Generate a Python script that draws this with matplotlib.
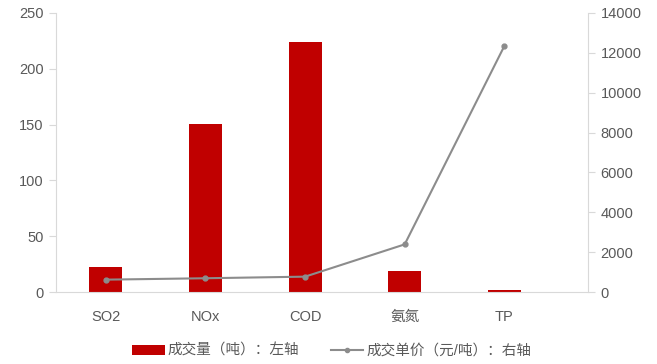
import matplotlib
matplotlib.use("Agg")
import matplotlib.pyplot as plt
from matplotlib.lines import Line2D
from matplotlib.patches import Patch

plt.rcParams['font.family'] = ['Liberation Sans', 'Noto Sans CJK SC', 'DejaVu Sans']

categories = ["SO2", "NOx", "COD", "氨氮", "TP"]
volume_t = [22.1, 150.5, 224.0, 18.8, 2.0]
unit_price = [620, 690, 770, 2390, 12340]
left_ticks = [0, 50, 100, 150, 200, 250]
right_ticks = [0, 2000, 4000, 6000, 8000, 10000, 12000, 14000]

bar_color = "#C00000"
line_color = "#8C8C8C"
text_color = "#595959"
axis_color = "#D9D9D9"

fig = plt.figure(figsize=(6.57, 3.64), dpi=100)
ax = fig.add_axes([56 / 657, (364 - 292) / 364, (588 - 56) / 657, (292 - 13) / 364])
x = list(range(len(categories)))
ax.bar(x, volume_t, width=0.33, color=bar_color, zorder=2)
ax.set_xlim(-0.5, 4.84)
ax.set_ylim(0, 250)
ax.set_yticks(left_ticks)
ax.set_xticks(x)
ax.set_xticklabels(categories)
ax.tick_params(axis='x', length=0, pad=13, labelsize=10.5, labelcolor=text_color)
ax.tick_params(axis='y', length=5, color=axis_color, labelsize=10.5, labelcolor=text_color, pad=4)
ax.spines["top"].set_visible(False)
ax.spines["left"].set_color(axis_color)
ax.spines["right"].set_visible(False)
ax.spines["bottom"].set_color(axis_color)

ax2 = ax.twinx()
ax2.plot(x, unit_price, color=line_color, lw=1.5, marker='o', markersize=3.5, zorder=3)
ax2.set_ylim(0, 14000)
ax2.set_yticks(right_ticks)
ax2.tick_params(axis='y', length=5, color=axis_color, labelsize=10.5, labelcolor=text_color, pad=4)
for s in ["top", "left", "bottom"]:
    ax2.spines[s].set_visible(False)
ax2.spines["right"].set_color(axis_color)

handles = [Patch(facecolor=bar_color, edgecolor='none'),
           Line2D([0], [0], color=line_color, lw=1.5, marker='o', markersize=3)]
labels = ["成交量（吨）：左轴", "成交单价（元/吨）：右轴"]
fig.legend(handles, labels, loc='center', bbox_to_anchor=(0.505, (364 - 351) / 364),
           ncol=2, frameon=False, fontsize=10.5, handlelength=2.2, handleheight=0.6,
           columnspacing=2.2, handletextpad=0.2, labelcolor=text_color)

fig.savefig("out.png", dpi=100)
